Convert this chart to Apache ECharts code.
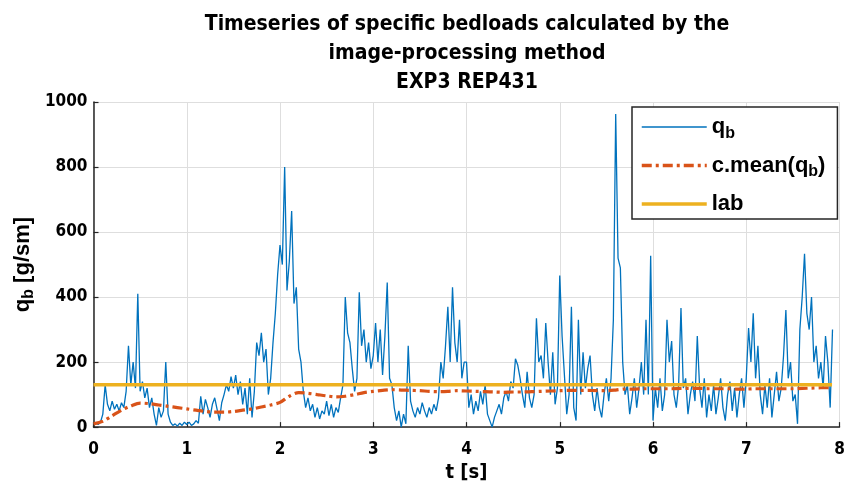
<!DOCTYPE html>
<html>
<head>
<meta charset="utf-8">
<script src="https://cdn.jsdelivr.net/npm/echarts@6/dist/echarts.min.js"></script>
<style>
  html, body { margin: 0; padding: 0; background: #fff; }
  #chart { width: 854px; height: 488px; }
</style>
</head>
<body>
<div id="chart"></div>
<script>
// sample spacing of the bedload record [s]
const dt = 0.025

// q_b [g/sm], one row per second
const qbValues = [
  10, 12, 8, 15, 40, 130, 70, 50, 80, 55, 70, 50, 75, 60, 110, 250, 130, 200, 120, 410,
  110, 140, 90, 120, 60, 90, 40, 5, 60, 30, 50, 200, 40, 15, 5, 10, 3, 12, 5, 15,
  8, 15, 5, 10, 20, 12, 95, 40, 85, 60, 30, 70, 90, 55, 20, 75, 100, 130, 110, 155,
  120, 160, 100, 140, 70, 120, 40, 150, 30, 110, 260, 220, 290, 200, 240, 100, 150, 260, 350, 470,
  560, 500, 800, 420, 510, 665, 380, 430, 240, 200, 110, 60, 90, 50, 70, 30, 60, 25, 50, 40,
  80, 35, 70, 30, 60, 45, 90, 130, 400, 290, 260, 180, 110, 150, 415, 250, 300, 200, 260, 180,
  220, 320, 200, 300, 160, 280, 445, 150, 130, 60, 20, 50, 0, 40, 10, 250, 80, 50, 30, 60,
  40, 75, 50, 30, 60, 40, 70, 50, 90, 200, 150, 250, 370, 200, 430, 260, 200, 330, 150, 200,
  200, 60, 100, 40, 80, 50, 110, 70, 130, 40, 20, 0, 30, 50, 70, 40, 90, 110, 80, 140,
  120, 210, 190, 150, 100, 60, 170, 90, 60, 100, 335, 200, 220, 150, 320, 200, 100, 230, 70, 120,
  466, 280, 160, 40, 100, 370, 60, 20, 330, 100, 230, 120, 180, 220, 100, 50, 120, 60, 30, 100,
  150, 80, 150, 330, 963, 520, 490, 200, 100, 130, 40, 90, 150, 60, 120, 200, 100, 330, 100, 527,
  20, 120, 60, 150, 50, 100, 330, 200, 265, 100, 60, 130, 366, 120, 150, 40, 100, 140, 80, 280,
  120, 60, 150, 30, 100, 50, 130, 40, 90, 150, 60, 20, 100, 140, 50, 120, 30, 100, 150, 60,
  150, 305, 200, 350, 150, 250, 100, 40, 130, 60, 150, 30, 100, 170, 80, 120, 220, 360, 150, 200,
  80, 100, 10, 300, 400, 533, 350, 300, 400, 200, 250, 150, 200, 120, 280, 200, 60, 300
]

// cumulative mean of q_b, read every 0.1 s
const meanTimes = [
  0, 0.1, 0.2, 0.3, 0.4, 0.5, 0.6, 0.7, 0.8, 0.9, 1, 1.1, 1.2, 1.3, 1.4, 1.5, 1.6, 1.7, 1.8, 1.9,
  2, 2.1, 2.2, 2.3, 2.4, 2.5, 2.6, 2.7, 2.8, 2.9, 3, 3.1, 3.2, 3.3, 3.4, 3.5, 3.6, 3.7, 3.8, 3.9,
  4, 4.1, 4.2, 4.3, 4.4, 4.5, 4.6, 4.7, 4.8, 4.9, 5, 5.1, 5.2, 5.3, 5.4, 5.5, 5.6, 5.7, 5.8, 5.9,
  6, 6.1, 6.2, 6.3, 6.4, 6.5, 6.6, 6.7, 6.8, 6.9, 7, 7.1, 7.2, 7.3, 7.4, 7.5, 7.6, 7.7, 7.8, 7.9
]
const meanValues = [
  10, 18, 35, 52, 65, 74, 72, 68, 64, 60, 56, 52, 48, 46, 46, 48, 52, 56, 62, 68,
  76, 95, 106, 104, 100, 96, 93, 95, 100, 106, 110, 113, 115, 114, 113, 112, 110, 109, 110, 112,
  111, 110, 109, 108, 107, 108, 108, 109, 110, 111, 112, 113, 113, 113, 112, 112, 114, 117, 117, 118,
  118, 118, 118, 119, 119, 119, 118, 118, 118, 117, 117, 118, 118, 118, 118, 118, 119, 120, 121, 121
]

// lab reference value
const labTimes = [0, 7.92]
const labValues = [130, 130]

const narrow = "'Liberation Sans Narrow', 'Arial Narrow', 'DejaVu Sans Condensed', sans-serif"
const sans = "'Liberation Sans', Arial, sans-serif"

const blue = '#0072BD'
const orange = '#D95319'
const yellow = '#EDB120'
const meanDash = [10, 4, 3, 4]

const chart = echarts.init(document.getElementById('chart'))

const qbData = qbValues.map((v, i) => [i * dt, v])
const meanData = meanTimes.map((t, i) => [t, meanValues[i]])
const labData = labTimes.map((t, i) => [t, labValues[i]])

const legendNames = {
  'q_b': '{t|q}{s|b}',
  'c.mean(q_b)': '{t|c.mean(q}{s|b}{t|)}',
  'lab': '{t|lab}'
}

const option = {
  animation: false,
  backgroundColor: '#fff',
  title: {
    text: 'Timeseries of specific bedloads calculated by the\nimage-processing method\nEXP3 REP431',
    left: 462,
    top: 5,
    textAlign: 'center',
    textStyle: {
      fontFamily: narrow,
      fontWeight: 'bold',
      fontSize: 21,
      lineHeight: 29,
      color: '#000'
    }
  },
  grid: {
    left: 93.5,
    right: 14.5,
    top: 102,
    bottom: 60.5
  },
  legend: {
    orient: 'vertical',
    left: 632,
    top: 107,
    width: 200,
    padding: [9, 12, 4, 8],
    itemWidth: 65,
    itemHeight: 14,
    itemGap: 13,
    borderColor: '#262626',
    borderWidth: 1.5,
    backgroundColor: '#fff',
    itemStyle: { opacity: 0, borderWidth: 0 },
    data: [
      { name: 'q_b', lineStyle: { color: blue, width: 1.5 } },
      { name: 'c.mean(q_b)', lineStyle: { color: orange, width: 3.5, type: meanDash } },
      { name: 'lab', lineStyle: { color: yellow, width: 3.5 } }
    ],
    formatter: name => legendNames[name],
    textStyle: {
      rich: {
        t: { fontFamily: sans, fontWeight: 'bold', fontSize: 22, color: '#000', lineHeight: 24 },
        s: { fontFamily: sans, fontWeight: 'bold', fontSize: 16, color: '#000', padding: [13, 0, 0, 0] }
      }
    }
  },
  xAxis: {
    type: 'value',
    min: 0,
    max: 8,
    interval: 1,
    name: 't [s]',
    nameLocation: 'middle',
    nameGap: 30,
    nameTextStyle: { fontFamily: narrow, fontWeight: 'bold', fontSize: 20, color: '#000' },
    axisLine: { show: true, onZero: false, lineStyle: { color: '#262626', width: 1.5 } },
    axisTick: { show: true, inside: true, length: 5, lineStyle: { color: '#262626', width: 1.2 } },
    axisLabel: { fontFamily: narrow, fontWeight: 'bold', fontSize: 17, color: '#000', margin: 14 },
    splitLine: { show: true, lineStyle: { color: '#dedede', width: 1 } }
  },
  yAxis: {
    type: 'value',
    min: 0,
    max: 1000,
    interval: 200,
    name: '{t|q}{s|b}{t| [g/sm]}',
    nameLocation: 'middle',
    nameGap: 57,
    nameMoveOverlap: false,
    nameRotate: 90,
    nameTextStyle: {
      rich: {
        t: { fontFamily: sans, fontWeight: 'bold', fontSize: 22, color: '#000', lineHeight: 24 },
        s: { fontFamily: sans, fontWeight: 'bold', fontSize: 16, color: '#000', padding: [12, 0, 0, 0] }
      }
    },
    axisLine: { show: true, lineStyle: { color: '#262626', width: 1.5 } },
    axisTick: { show: true, inside: true, length: 5, lineStyle: { color: '#262626', width: 1.2 } },
    axisLabel: {
      fontFamily: narrow, fontWeight: 'bold', fontSize: 17, color: '#000', margin: 6,
      formatter: v => String(v)
    },
    splitLine: { show: true, lineStyle: { color: '#dedede', width: 1 } }
  },
  series: [
    {
      name: 'q_b',
      type: 'line',
      data: qbData,
      symbol: 'none',
      color: blue,
      lineStyle: { color: blue, width: 1.3 }
    },
    {
      name: 'c.mean(q_b)',
      type: 'line',
      data: meanData,
      symbol: 'none',
      smooth: 0.3,
      color: orange,
      lineStyle: { color: orange, width: 3.2, type: meanDash }
    },
    {
      name: 'lab',
      type: 'line',
      data: labData,
      symbol: 'none',
      color: yellow,
      lineStyle: { color: yellow, width: 3.5 }
    }
  ]
}

chart.setOption(option)
</script>
</body>
</html>
